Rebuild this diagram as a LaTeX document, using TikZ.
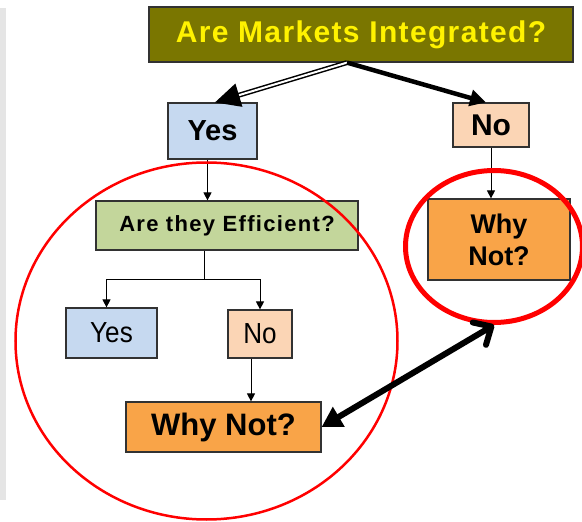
\documentclass[tikz,border=0pt]{standalone}
\usepackage{fontspec}
\setmainfont{Liberation Sans}
\newfontfamily\widesans{Liberation Sans}[LetterSpace=4.5]
\newfontfamily\effsans{Liberation Sans}[LetterSpace=6]
\newfontfamily\narrowsans{Liberation Sans}[FakeStretch=0.9]
\usetikzlibrary{arrows.meta,shapes.geometric}
\definecolor{olivebox}{RGB}{122,118,0}
\definecolor{yesblue}{RGB}{198,217,240}
\definecolor{nopeach}{RGB}{251,213,181}
\definecolor{effgreen}{RGB}{195,214,155}
\definecolor{whyorange}{RGB}{249,164,72}
\definecolor{boxline}{RGB}{50,50,50}
\definecolor{ringred}{RGB}{255,0,0}
\tikzstyle{box}=[draw=boxline,line width=1.2pt,inner sep=0pt,align=center]
\tikzstyle{thin}=[line width=0.9pt,-{Triangle[length=8pt,width=8pt]}]
\tikzstyle{ring}=[draw=ringred,ellipse,inner sep=0pt]
\newcommand{\fs}[1]{\fontsize{#1}{#1}\selectfont}

\begin{document}
\begin{tikzpicture}[x=1pt,y=-1pt]
    \useasboundingbox (0,0) rectangle (582,522);
    \clip (0,0) rectangle (582,522);
    \fill[gray!20] (0,8) rectangle (6,500);
    % boxes
    \node[box,fill=olivebox,text=yellow,minimum width=424pt,minimum height=55pt,font=\widesans\bfseries\fs{30}] (market) at (361,34.5) {Are Markets Integrated?};
    \node[box,fill=yesblue,minimum width=89pt,minimum height=56pt,font=\bfseries\fs{29}] (yes) at (212.5,131) {Yes};
    \node[box,fill=nopeach,minimum width=76pt,minimum height=44pt,font=\bfseries\fs{30}] (no) at (491,125) {No};
    \node[box,fill=effgreen,minimum width=262pt,minimum height=49pt,font=\effsans\bfseries\fs{22}] (eff) at (227,225.5) {Are they Efficient?};
    \node[box,fill=yesblue,minimum width=91pt,minimum height=50pt,font=\narrowsans\fs{29}] (yes2) at (111.5,333) {Yes};
    \node[box,fill=nopeach,minimum width=64pt,minimum height=48pt,font=\narrowsans\fs{29}] (no2) at (260,334) {No};
    \node[box,fill=whyorange,minimum width=195pt,minimum height=50pt,font=\bfseries\fs{31}] (why2) at (223.5,427) {Why Not?};
    \node[box,fill=whyorange,minimum width=142pt,minimum height=81pt,font=\bfseries\fontsize{27}{32}\selectfont] (why) at (499,239.5) {Why\\Not?};
    % connectors
    \coordinate (apex) at ([xshift=-14pt]market.south);
    \draw[double,double distance=2pt,line width=1.5pt,-{Triangle[length=25pt,width=24pt]}] (apex) -- ([xshift=2.5pt]yes.north);
    \draw[line width=4.5pt,-{Triangle[length=16pt,width=16pt]}] (apex) -- ([xshift=-5pt]no.north);
    \draw[thin] ([xshift=-5pt]yes.south) -- ([xshift=-5pt]yes.south |- eff.north);
    \draw[line width=0.9pt] ([xshift=-23pt]eff.south) -- ++(0,29) coordinate (split);
    \draw[thin] (split) -| ([xshift=-5pt]yes2.north);
    \draw[thin] (split) -| (no2.north);
    \draw[thin] ([xshift=-9pt]no2.south) -- ([xshift=-9pt]no2.south |- why2.north);
    \draw[thin] (no.south) -- (no.south |- why.north);
    % rings
    \node[ring,line width=2.5pt,minimum width=382pt,minimum height=357pt] (ringL) at (206.5,341) {};
    \node[ring,line width=5pt,minimum width=177pt,minimum height=152pt] (ringR) at (494,246.5) {};
    \draw[line width=6pt,{Triangle[length=20pt,width=22pt]}-{Straight Barb[length=14pt,width=26pt,round]}] (why2.east) -- (ringR.south);
\end{tikzpicture}
\end{document}
